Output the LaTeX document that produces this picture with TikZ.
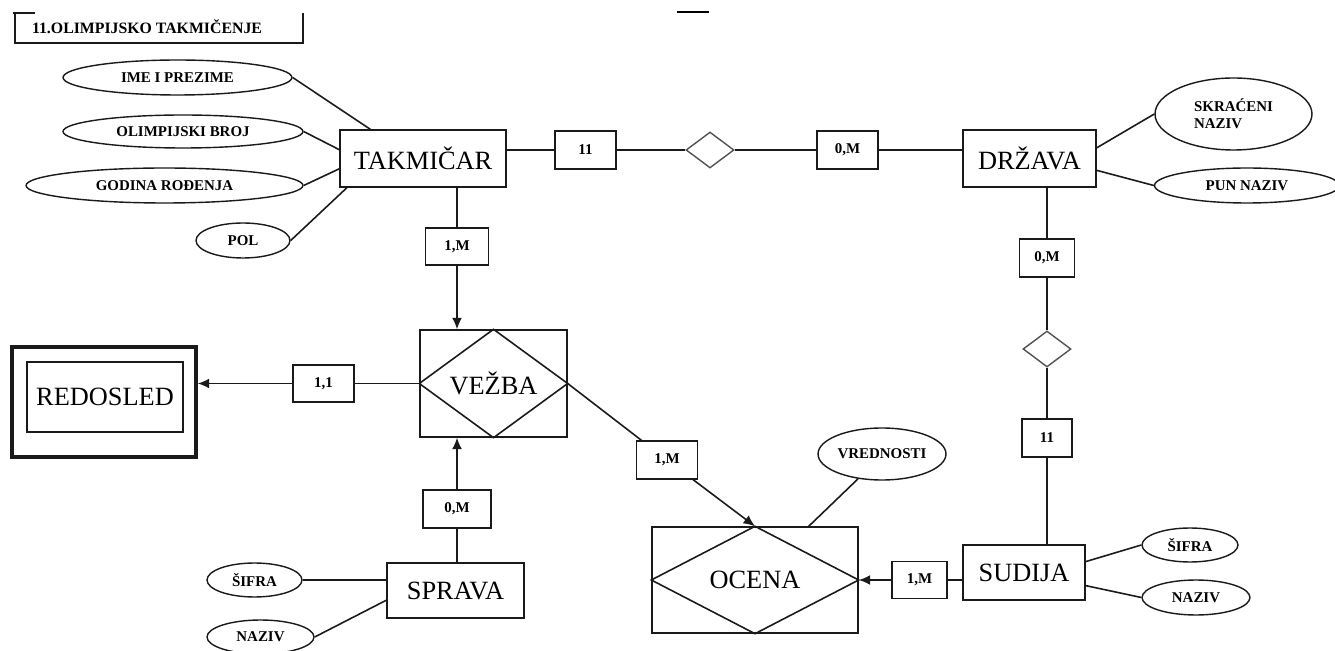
\documentclass[tikz,border=0pt]{standalone}
\usepackage{fontspec}
\setmainfont{Liberation Serif}
\usetikzlibrary{arrows.meta,shapes.geometric}
\definecolor{Ink}{HTML}{1A1A1A}

\begin{document}
\begin{tikzpicture}[x=0.02cm,y=-0.02cm,
  entity/.style={draw=Ink,line width=0.8pt,inner sep=0pt,font=\fontsize{15}{17}\selectfont},
  attr/.style={draw=Ink,ellipse,line width=0.8pt,inner sep=0pt,font=\fontsize{8.5}{9.5}\selectfont\bfseries,align=left},
  card/.style={draw=Ink,line width=0.8pt,inner sep=0pt,minimum width=1.22cm,minimum height=0.76cm,font=\fontsize{8.5}{9.5}\selectfont\bfseries},
  rel/.style={draw=Ink!75,diamond,line width=0.8pt,inner sep=0pt,minimum width=0.96cm,minimum height=0.72cm},
  link/.style={draw=Ink,line width=0.9pt},
  arr/.style={link,-{Latex[length=2.3mm,width=2mm]}}
]
\fill[white] (0,0) rectangle (1335,651);
\useasboundingbox (0,0) rectangle (1335,651);

\draw[Ink,line width=1.1pt] (13,13) -- (35,13);
\draw[Ink,line width=1.1pt] (15,13) -- (15,43) -- (303,43) -- (303,13);
\node[font=\fontsize{9}{10}\selectfont\bfseries] (title) at (147,27) {11.OLIMPIJSKO TAKMIČENJE};
\draw[black,line width=1.6pt] (677,12) -- (709,12);

\node[entity,minimum width=3.32cm,minimum height=1.14cm] (tak) at (423,158.5) {TAKMIČAR};
\node[entity,minimum width=2.66cm,minimum height=1.14cm] (drz) at (1029.5,158.5) {DRŽAVA};
\node[entity,minimum width=2.44cm,minimum height=1.10cm] (sud) at (1024,572.5) {SUDIJA};
\node[entity,minimum width=2.74cm,minimum height=1.10cm] (spr) at (455.5,590.5) {SPRAVA};
\node[entity,minimum width=2.94cm,minimum height=2.14cm] (vez) at (493.5,383.5) {VEŽBA};
\node[entity,minimum width=4.12cm,minimum height=2.12cm] (oc) at (755,580) {OCENA};
\node[entity,line width=2pt,minimum width=3.68cm,minimum height=2.2cm] (red) at (104,402) {};
\node[entity,minimum width=3.12cm,minimum height=1.4cm] (redin) at (105,397) {REDOSLED};
\foreach \n in {vez,oc}
  \draw[link] (\n.north) -- (\n.east) -- (\n.south) -- (\n.west) -- cycle;

\node[attr,minimum width=4.58cm,minimum height=0.70cm] (ime) at (177.5,77.5) {IME I PREZIME};
\node[attr,minimum width=4.8cm,minimum height=0.66cm] (olb) at (183,131.5) {OLIMPIJSKI BROJ};
\node[attr,minimum width=5.54cm,minimum height=0.70cm] (god) at (164.5,185.5) {GODINA ROĐENJA};
\node[attr,minimum width=1.88cm,minimum height=0.70cm] (pol) at (243,240.5) {POL};
\node[attr,minimum width=3.14cm,minimum height=1.44cm] (skr) at (1233.5,114) {SKRAĆENI\\NAZIV};
\node[attr,minimum width=3.7cm,minimum height=0.70cm] (pun) at (1247,185.5) {PUN NAZIV};
\node[attr,minimum width=2.56cm,minimum height=1.04cm] (vred) at (882,454) {VREDNOSTI};
\node[attr,minimum width=1.92cm,minimum height=0.68cm] (sifs) at (1190,545) {ŠIFRA};
\node[attr,minimum width=2.16cm,minimum height=0.70cm] (nazs) at (1196,597.5) {NAZIV};
\node[attr,minimum width=1.9cm,minimum height=0.68cm] (sifp) at (254.5,580) {ŠIFRA};
\node[attr,minimum width=2.14cm,minimum height=0.68cm] (nazp) at (260.5,637) {NAZIV};

\node[rel] (r1) at (710,150) {};
\node[rel] (r2) at (1047,349) {};

\node[card] (c1) at (585.5,150) {11};
\node[card] (c2) at (847.5,150) {0,M};
\node[card,minimum width=1.1cm] (c3) at (1047,258) {0,M};
\node[card,minimum width=1.0cm] (c4) at (1047,438) {11};
\node[card,minimum width=1.1cm,minimum height=0.74cm] (c5) at (919.5,580) {1,M};
\node[card] (c6) at (667,460) {1,M};
\node[card,minimum width=1.26cm,minimum height=0.74cm] (c7) at (457,246.5) {1,M};
\node[card,minimum height=0.74cm] (c8) at (323.5,383.5) {1,1};
\node[card,minimum width=1.36cm] (c9) at (457,509) {0,M};

\draw[link] (ime.east) -- (tak.151);
\draw[link] (olb.east) -- (tak.174);
\draw[link] (god.east) -- (tak.187);
\draw[link] (pol.east) -- (tak.201);
\draw[link] (drz.9) -- (skr.west);
\draw[link] (drz.-10) -- (pun.west);
\draw[link] (sud.10) -- (sifs.west);
\draw[link] (sud.-12) -- (nazs.west);
\draw[link] (sifp.east) -- (spr.west |- sifp.east);
\draw[link] (nazp.east) -- (spr.188);
\draw[link] (vred.226) -- (oc.45);

\draw[link] (tak.east |- c1) -- (c1) -- (r1) -- (c2) -- (drz.west |- c2);
\draw[link] (drz.south -| c3) -- (c3) -- (r2) -- (c4) -- (sud.north -| c4);
\draw[arr] (tak.south -| c7) -- (c7) -- (vez.north -| c7);
\draw[arr] (spr.north -| c9) -- (c9) -- (vez.south -| c9);
\draw[arr] (vez.west) -- (c8) -- (red.east |- c8);
\draw[arr] (vez.east) -- (c6) -- (oc.north);
\draw[arr] (sud.west |- c5) -- (c5) -- (oc.east);
\end{tikzpicture}
\end{document}
